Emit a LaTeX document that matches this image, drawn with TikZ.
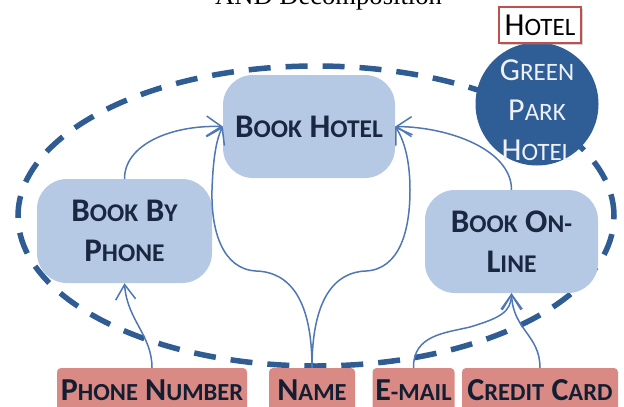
\documentclass[tikz,border=0pt]{standalone}
\usepackage{fontspec}
\setmainfont{Carlito}
\newfontfamily\titlefont{Liberation Serif}
\usetikzlibrary{arrows.meta,shadows}
\definecolor{ellblue}{HTML}{2E5C93}
\definecolor{bookfill}{HTML}{B5C8E4}
\definecolor{booktext}{HTML}{1A2740}
\definecolor{circfill}{HTML}{2F5E97}
\definecolor{circtext}{HTML}{EEF2F8}
\definecolor{connblue}{HTML}{4E77B4}
\definecolor{attrfill}{HTML}{D98A84}
\definecolor{attrtext}{HTML}{141E33}
\definecolor{labelred}{HTML}{C0504D}
\newcommand\lsc[1]{{\fontsize{\smsz}{\smsz}\selectfont #1}}
\begin{document}
\begin{tikzpicture}[x=1pt,y=-1pt,
  bookbox/.style={fill=bookfill, draw=none, rounded corners=30pt, inner sep=0pt,
    text=booktext, align=center, font=\bfseries\fontsize{33}{40}\selectfont\def\smsz{25.5}},
  attrbox/.style={fill=attrfill, draw=none, rounded corners=4pt, minimum height=44pt,
    inner sep=0pt, text=attrtext, font=\bfseries\fontsize{32}{32}\selectfont\def\smsz{24.5}},
  conn/.style={draw=connblue, line width=1.5pt, -{Straight Barb[length=15pt,width=20pt]}},
  ellstyle/.style={draw=ellblue, line width=5.5pt, dash pattern=on 22pt off 15pt}
]
\useasboundingbox (0,0) rectangle (624,407);
\clip (0,0) rectangle (624,407);

\node[font=\titlefont\fontsize{26.6}{30}\selectfont, anchor=base, inner sep=0pt] (title) at (328.5,4) {AND Decomposition};

\draw[ellstyle] (316,216) ellipse [x radius=298pt, y radius=150pt];

\node[bookbox, minimum width=172pt, minimum height=103pt] (bh) at (309,126.5) {B\lsc{OOK} H\lsc{OTEL}};
\node[bookbox, minimum width=175pt, minimum height=104pt] (bp) at (124.5,231) {B\lsc{OOK} B\lsc{Y}\\P\lsc{HONE}};
\node[bookbox, minimum width=173pt, minimum height=103pt] (bo) at (511.5,241.5) {B\lsc{OOK} O\lsc{N-}\\L\lsc{INE}};

\node[circle, fill=circfill, minimum size=123pt, inner sep=0pt] (gp) at (537,104) {};
\node[text=circtext, align=center, inner sep=0pt, font=\fontsize{32}{40}\selectfont\def\smsz{25}] (gpt) at (537,110) {G\lsc{REEN}\\P\lsc{ARK}\\H\lsc{OTEL}};

\node[draw=labelred, line width=1.3pt, fill=white, minimum width=82pt, minimum height=36pt, inner sep=0pt,
  drop shadow={opacity=0.35, shadow xshift=1.5pt, shadow yshift=-1.5pt},
  font=\fontsize{32}{32}\selectfont\def\smsz{25}] (hl) at (540,25) {H\lsc{OTEL}};

\node[attrbox, minimum width=190pt] (pn) at (152,390) {P\lsc{HONE} N\lsc{UMBER}};
\node[attrbox, minimum width=86pt] (nm) at (312,390) {N\lsc{AME}};
\node[attrbox, minimum width=82pt] (em) at (413.5,390) {E\lsc{-MAIL}};
\node[attrbox, minimum width=156pt] (cc) at (540,390) {C\lsc{REDIT} C\lsc{ARD}};

\draw[conn] (bp.north) .. controls (124.5,145) and (170,125) .. (bh.west);
\draw[conn] (bo.north) .. controls (511.5,150) and (450,127) .. (bh.east);
\draw[conn] (nm.north) .. controls (312,300) and (290,272) .. (256,271) .. controls (222,269) and (211,230) .. (212,190) .. controls (213,160) and (216,140) .. (bh.west);
\draw[conn] (nm.north) .. controls (312,300) and (334,272) .. (366,271) .. controls (400,269) and (410,230) .. (410,190) .. controls (410,160) and (404,140) .. (bh.east);
\draw[conn] (pn.north) .. controls (152,335) and (127,320) .. (bp.south);
\draw[conn] (em.north) .. controls (413,335) and (445,333) .. (470,327) .. controls (500,318) and (511,312) .. (bo.south);
\draw[conn] (cc.north) .. controls (540,335) and (513,330) .. (bo.south);
\end{tikzpicture}
\end{document}
